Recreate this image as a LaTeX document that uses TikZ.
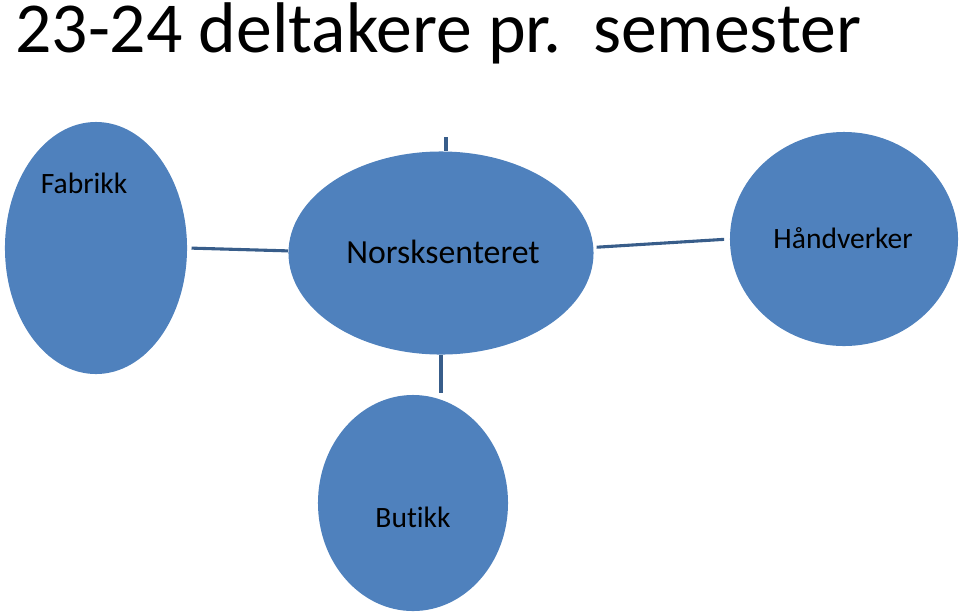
\documentclass[tikz,border=0pt]{standalone}
\usepackage{fontspec}
\setmainfont{Carlito}[Ligatures=NoCommon]
\usetikzlibrary{positioning,shapes.geometric}
\definecolor{bubblefill}{HTML}{4F81BD}
\definecolor{linkblue}{HTML}{385D8A}

\begin{document}
\begin{tikzpicture}[
    x=0.025cm,
    y=-0.025cm,
    bubble/.style={
        ellipse,
        fill=bubblefill,
        inner sep=0pt
    },
    link/.style={
        draw=linkblue,
        line width=2.2pt
    },
    txt/.style={
        font=\fontsize{21}{25}\selectfont,
        inner sep=0pt
    }
]

\useasboundingbox (0,0) rectangle (960,614);

\node[anchor=base west, inner sep=0pt, font=\fontsize{51}{60}\selectfont] (title) at (15,52) {23-24 deltakere pr.\hspace{7pt} semester};

\node[bubble, minimum width=4.55cm, minimum height=6.3cm] (fabrikk) at (96,248) {};

\node[bubble, minimum width=7.625cm, minimum height=5.075cm] (norsk) at (441,253) {};

\node[bubble, minimum width=5.7cm, minimum height=5.35cm] (handverk) at (844,239) {};

\node[bubble, minimum width=4.75cm, minimum height=5.4cm] (butikk) at (413,503) {};

\node[txt] (fabrikktxt) at (84,183) {Fabrikk};

\node[txt, font=\fontsize{24}{28}\selectfont] (norsktxt) at (443,252) {Norsksenteret};

\node[txt] (handverktxt) at (843,238) {Håndverker};

\node[txt] (butikktxt) at (413,517) {Butikk};

\coordinate (stub) at (446,137);

\draw[link, shorten <=3pt] (fabrikk.east) -- ([yshift=1.5pt]norsk.west);

\draw[link, shorten <=2pt, shorten >=4pt] ([yshift=4pt]norsk.east) -- (handverk.west);

\draw[link, shorten >=1pt] (norsk.south) -- (norsk.south |- butikk.north);

\draw[link] (stub) -- (stub |- norsk.north);

\end{tikzpicture}
\end{document}
